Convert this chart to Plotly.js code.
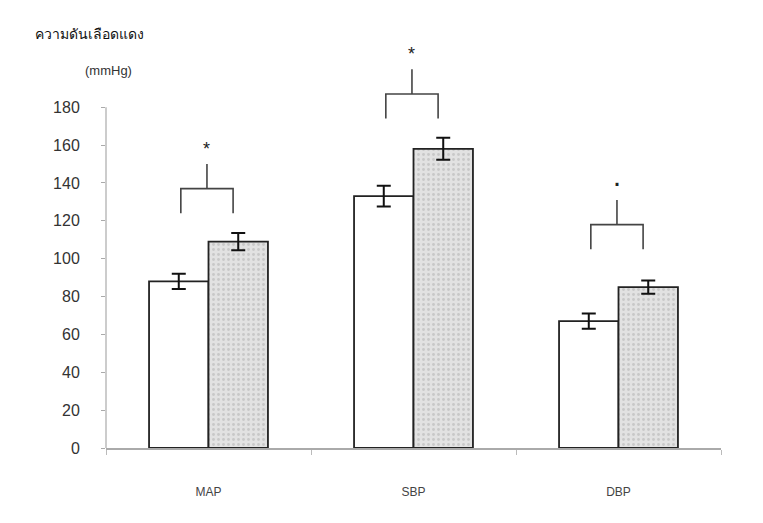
<!DOCTYPE html>
<html>
<head>
<meta charset="utf-8">
<script src="https://cdn.plot.ly/plotly-3.0.1.min.js"></script>
<style>html,body{margin:0;padding:0;background:#fff;}#chart{width:763px;height:523px;}</style>
</head>
<body>
<div id="chart"></div>
<script>
const categories = ['MAP', 'SBP', 'DBP'];
const controlValues = [88, 133, 67];
const controlErrors = [4, 5.5, 4];
const treatedValues = [109, 158, 85];
const treatedErrors = [4.5, 5.8, 3.5];
const sigLabels = ['*', '*', '·'];
const sigBase = [124, 174, 105];
const yTicks = [0, 20, 40, 60, 80, 100, 120, 140, 160, 180];

const common = {type: 'bar', x: categories, cliponaxis: false, hoverinfo: 'skip'};
const traces = [
  Object.assign({}, common, {
    y: controlValues,
    marker: {color: '#ffffff', line: {color: '#222', width: 1.8}},
    error_y: {type: 'data', array: controlErrors, visible: true, color: '#111', thickness: 2, width: 7}
  }),
  Object.assign({}, common, {
    y: treatedValues,
    marker: {color: '#dedede', line: {color: '#222', width: 1.8},
      pattern: {shape: '.', fgcolor: '#c8c8c8', bgcolor: '#e2e2e2', size: 5, solidity: 0.25}},
    error_y: {type: 'data', array: treatedErrors, visible: true, color: '#111', thickness: 2, width: 7}
  })
];

const shapes = [];
const annotations = [];
const leg = 13, stem = 13;
categories.forEach((c, i) => {
  const b = sigBase[i];
  const xl = i - 0.135, xr = i + 0.12, xm = (xl + xr) / 2;
  const line = {color: '#444', width: 1.6};
  shapes.push({type: 'path', xref: 'x', yref: 'y',
    path: `M ${xl} ${b} L ${xl} ${b + leg} L ${xr} ${b + leg} L ${xr} ${b}`, line: line});
  shapes.push({type: 'line', xref: 'x', yref: 'y', x0: xm, x1: xm, y0: b + leg, y1: b + leg + stem, line: line});
  const isStar = sigLabels[i] === '*';
  annotations.push({x: xm, y: b + leg + stem + (isStar ? 8 : 10), xref: 'x', yref: 'y', text: sigLabels[i], showarrow: false,
    font: {size: isStar ? 18 : 30, color: '#222', family: 'Liberation Sans, Arial, sans-serif'}});
});
// y axis line only up to 180
shapes.push({type: 'line', xref: 'paper', yref: 'y', x0: 0, x1: 0, y0: 0, y1: 180, line: {color: '#aaa', width: 1.2}});

annotations.push({xref: 'paper', yref: 'paper', x: -0.119, y: 0.974, xanchor: 'left', yanchor: 'middle',
  text: 'ความดันเลือดแดง', showarrow: false, font: {size: 14, color: '#111', family: 'Noto Sans, sans-serif'}});
annotations.push({xref: 'paper', yref: 'paper', x: -0.038, y: 0.887, xanchor: 'left', yanchor: 'middle',
  text: '(mmHg)', showarrow: false, font: {size: 13, color: '#333', family: 'Liberation Sans, Arial, sans-serif'}});

const layout = {
  width: 763, height: 523,
  margin: {l: 106, r: 42, t: 22, b: 75},
  paper_bgcolor: '#fff', plot_bgcolor: '#fff',
  showlegend: false,
  barmode: 'group', bargap: 0.42, bargroupgap: 0,
  font: {family: 'Liberation Sans, Arial, sans-serif', color: '#333'},
  xaxis: {
    type: 'category', range: [-0.5, 2.5], showgrid: false, zeroline: false,
    showline: true, linecolor: '#aaa', linewidth: 1.5,
    ticks: 'outside', tickson: 'boundaries', ticklen: 5, tickcolor: '#bbb',
    tickfont: {size: 12, color: '#444'}, ticklabelstandoff: 32
  },
  yaxis: {
    range: [0, 225], showgrid: false, zeroline: false, showline: false,
    tickvals: yTicks, ticktext: yTicks.map(String),
    ticks: 'outside', ticklen: 4, tickcolor: '#aaa',
    tickfont: {size: 16, color: '#333'}, ticklabelstandoff: 18
  },
  shapes: shapes,
  annotations: annotations
};
Plotly.newPlot('chart', traces, layout, {displayModeBar: false, staticPlot: true});
</script>
</body>
</html>
